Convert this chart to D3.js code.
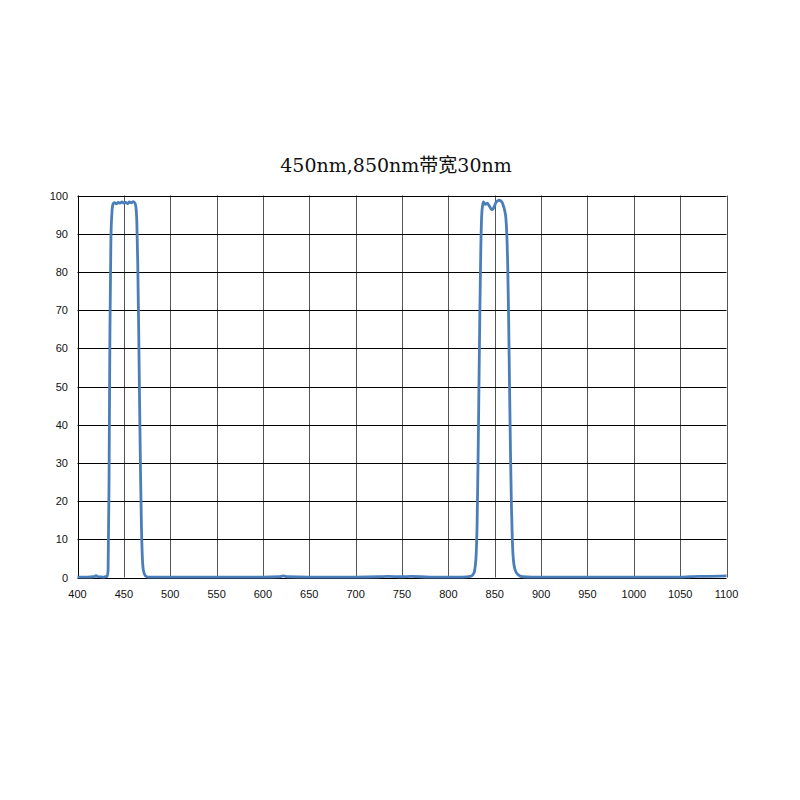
<!DOCTYPE html>
<html><head><meta charset="utf-8">
<script src="https://cdn.jsdelivr.net/npm/d3@7"></script>
<style>body{margin:0;background:#fff;}</style>
</head><body>
<svg id="c" width="800" height="800"></svg>
<script>
const titleText = "450nm,850nm带宽30nm";
const xTicks = [400,450,500,550,600,650,700,750,800,850,900,950,1000,1050,1100];
const yTicks = [0,10,20,30,40,50,60,70,80,90,100];
const wavelength = [400,410,418,420,422,428,430,432,433,434,435,436,437,438,439,440,442,444,446,448,450,452,454,456,458,460,462,463,464,465,466,467,468,469,470,471,473,476,480,500,550,600,618,622,626,650,700,725,735,750,760,780,800,815,824,826,828,829,830,831,832,833,834,835,836,837,838,839,840,841,842,843,844,845,846,847,848,849,850,851,852,853,854,855,856,857,858,859,860,861,862,863,864,865,866,867,868,869,870,872,875,880,890,900,950,1000,1050,1060,1070,1080,1100];
const transmission = [0.1,0.1,0.2,0.5,0.2,0.1,0.2,0.3,2,25,65,88,95,97.5,98,98.1,97.8,98.2,98,98.3,98,98.2,97.9,98.3,98.1,98.4,98,97,93,82,65,45,27,13,5,2,0.5,0.1,0.1,0.1,0.1,0.1,0.2,0.4,0.2,0.1,0.1,0.2,0.3,0.2,0.3,0.1,0.1,0.1,0.3,0.6,1.5,3,6,14,30,50,70,86,95,97.5,98.3,97.9,97.7,97.8,98,97.7,97.3,96.9,96.5,96.3,96.4,96.8,97.4,98,98.4,98.6,98.7,98.8,98.7,98.5,98.2,97.6,96.8,95.8,94.2,90,82,68,50,33,19,10,5,2,0.8,0.2,0.1,0.1,0.1,0.1,0.1,0.2,0.3,0.3,0.4];

const svg = d3.select("#c");
const x = d3.scaleLinear().domain([400,1100]).range([77.5,726.5]);
const y = d3.scaleLinear().domain([0,100]).range([577.5,195.5]);

svg.append("text").attr("x",396).attr("y",172).attr("text-anchor","middle")
  .style("font-family","'DejaVu Serif','Liberation Serif','Noto Sans CJK SC',serif")
  .style("font-size","19px").attr("fill","#111").text(titleText);

const g = svg.append("g");
g.selectAll(".vg").data(xTicks).join("line")
  .attr("x1",d=>Math.round(x(d))+0.5).attr("x2",d=>Math.round(x(d))+0.5)
  .attr("y1",y(100)).attr("y2",y(0)).attr("stroke",(d,i)=>(i===0)?"#000":"#555").attr("stroke-width",1);
g.selectAll(".hg").data(yTicks).join("line")
  .attr("y1",d=>Math.round(y(d))+0.5).attr("y2",d=>Math.round(y(d))+0.5)
  .attr("x1",x(400)).attr("x2",x(1100)).attr("stroke","#000").attr("stroke-width",1);

const tickFont = "'Liberation Sans','DejaVu Sans',sans-serif";
svg.selectAll(".xl").data(xTicks).join("text")
  .attr("x",d=>x(d)).attr("y",598).attr("text-anchor","middle")
  .style("font-family",tickFont).style("font-size","11px").attr("fill","#111").text(d=>d);
svg.selectAll(".yl").data(yTicks).join("text")
  .attr("x",68).attr("y",d=>y(d)+4).attr("text-anchor","end")
  .style("font-family",tickFont).style("font-size","11px").attr("fill","#111").text(d=>d);

const data = wavelength.map((w,i)=>({w, t: transmission[i]}));
const line = d3.line().x(d=>x(d.w)).y(d=>y(d.t)).curve(d3.curveMonotoneX);
svg.append("path").datum(data).attr("d",line).attr("fill","none")
  .attr("stroke","#4a7ebb").attr("stroke-width",2.8).attr("stroke-linejoin","round");
</script>
</body></html>
